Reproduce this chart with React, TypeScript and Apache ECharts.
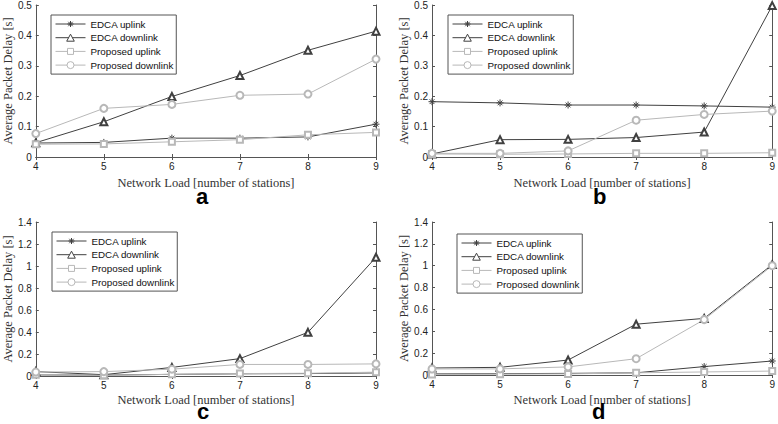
import React, { useEffect, useRef } from "react";
import * as echarts from "echarts";

const stations = [4, 5, 6, 7, 8, 9];
const seriesNames = ["EDCA uplink", "EDCA downlink", "Proposed uplink", "Proposed downlink"];
const panelLabels = ["a", "b", "c", "d"];

const aEdcaUp = [0.046, 0.048, 0.062, 0.062, 0.066, 0.108];
const aEdcaDown = [0.047, 0.116, 0.199, 0.268, 0.351, 0.414];
const aPropUp = [0.042, 0.043, 0.05, 0.057, 0.073, 0.081];
const aPropDown = [0.077, 0.16, 0.173, 0.203, 0.207, 0.322];

const bEdcaUp = [0.182, 0.178, 0.171, 0.171, 0.168, 0.164];
const bEdcaDown = [0.01, 0.057, 0.058, 0.064, 0.082, 0.498];
const bPropUp = [0.01, 0.009, 0.01, 0.012, 0.012, 0.014];
const bPropDown = [0.012, 0.012, 0.02, 0.121, 0.14, 0.151];

const cEdcaUp = [0.01, 0.008, 0.015, 0.02, 0.022, 0.028];
const cEdcaDown = [0.04, 0.012, 0.078, 0.158, 0.397, 1.08];
const cPropUp = [0.012, 0.006, 0.015, 0.022, 0.025, 0.035];
const cPropDown = [0.036, 0.04, 0.062, 0.105, 0.105, 0.11];

const dEdcaUp = [0.01, 0.012, 0.015, 0.02, 0.077, 0.128];
const dEdcaDown = [0.064, 0.07, 0.137, 0.465, 0.518, 1.01];
const dPropUp = [0.005, 0.008, 0.01, 0.02, 0.028, 0.036];
const dPropDown = [0.055, 0.056, 0.074, 0.149, 0.507, 1.0];

const panelData = [
  [aEdcaUp, aEdcaDown, aPropUp, aPropDown],
  [bEdcaUp, bEdcaDown, bPropUp, bPropDown],
  [cEdcaUp, cEdcaDown, cPropUp, cPropDown],
  [dEdcaUp, dEdcaDown, dPropUp, dPropDown],
];
const yMaxes = [0.5, 0.5, 1.4, 1.4];
const yIntervals = [0.1, 0.1, 0.2, 0.2];

const DARK = "#404040";
const LIGHT = "#b8b8b8";
const ASTERISK = "path://M5,0L5,10M0,5L10,5M1.6,1.6L8.4,8.4M8.4,1.6L1.6,8.4";

const legendIcons = [
  "path://M0,3.5L30,3.5M15,0.5L15,6.5M12,3.5L18,3.5M12.8,1.3L17.2,5.7M17.2,1.3L12.8,5.7M15,0L15,0M15,7L15,7",
  "path://M0,3.5L13.2,3.5M16.8,3.5L30,3.5M15,0L18.8,7L11.2,7Z",
  "path://M0,3.5L12,3.5M18,3.5L30,3.5M12,0.5L18,0.5L18,6.5L12,6.5ZM15,0L15,0M15,7L15,7",
  "path://M0,3.5L11.5,3.5M18.5,3.5L30,3.5M11.5,3.5A3.5,3.5,0,1,0,18.5,3.5A3.5,3.5,0,1,0,11.5,3.5Z",
];
const legendColors = [DARK, DARK, LIGHT, LIGHT];

const grids = [
  { left: 33, top: 4, width: 343, height: 153 },
  { left: 432, top: 4, width: 343, height: 153 },
  { left: 33, top: 222, width: 343, height: 154 },
  { left: 432, top: 222, width: 343, height: 153 },
];
const xNameGaps = [19, 19, 17.5, 18];
const legendPos = [
  { left: 51, top: 15 },
  { left: 448, top: 15 },
  { left: 52, top: 232 },
  { left: 457, top: 234 },
];
const labelPos = [
  { left: 196, top: 189.5 },
  { left: 593, top: 189.5 },
  { left: 197, top: 404 },
  { left: 592, top: 404 },
];

export default function App() {
  const ref = useRef<HTMLDivElement>(null);
  useEffect(() => {
    if (!ref.current) return;
    const chart = echarts.init(ref.current, undefined, { renderer: "svg" });
    const styles = [
      { color: DARK, symbol: ASTERISK, size: 7 },
      { color: DARK, symbol: "emptyTriangle", size: 7 },
      { color: LIGHT, symbol: "emptyRect", size: 6 },
      { color: LIGHT, symbol: "emptyCircle", size: 7 },
    ];
    const series: any[] = [];
    panelData.forEach((pd, p) => {
      pd.forEach((vals, s) => {
        const st = styles[s];
        series.push({
          type: "line",
          name: seriesNames[s],
          xAxisIndex: p,
          yAxisIndex: p,
          data: stations.map((x, i) => [x, vals[i]]),
          symbol: st.symbol,
          symbolSize: st.size,
          showSymbol: true,
          showAllSymbol: true,
          lineStyle: { color: st.color, width: 1 },
          itemStyle: {
            color: st.color,
            borderColor: st.color,
            borderWidth: 1,
          },
          emphasis: { disabled: true },
        });
      });
    });
    const axisLabelStyle = { fontFamily: "Liberation Sans", fontSize: 10, color: "#222" };
    const nameStyle = { fontFamily: "Liberation Serif", fontSize: 12.5, color: "#333" };
    const tick = { show: true, inside: true, length: 3, lineStyle: { color: "#555" } };
    const line = { show: true, lineStyle: { color: "#555", width: 1 } };
    const xAxes: any[] = [];
    const yAxes: any[] = [];
    grids.forEach((_, p) => {
      xAxes.push({
        type: "value",
        gridIndex: p,
        min: 4,
        max: 9,
        interval: 1,
        name: "Network Load [number of stations]",
        nameLocation: "middle",
        nameGap: xNameGaps[p],
        nameTextStyle: nameStyle,
        axisLine: line,
        axisTick: tick,
        axisLabel: { ...axisLabelStyle, margin: 4, showMaxLabel: true, showMinLabel: true },
        splitLine: { show: false },
      });
      yAxes.push({
        type: "value",
        gridIndex: p,
        min: 0,
        max: yMaxes[p],
        interval: yIntervals[p],
        name: "Average Packet Delay [s]",
        nameLocation: "middle",
        nameGap: 20,
        nameTextStyle: nameStyle,
        axisLine: line,
        axisTick: tick,
        axisLabel: { ...axisLabelStyle, margin: 4, showMaxLabel: true, showMinLabel: true },
        splitLine: { show: false },
      });
    });
    grids.forEach((_, p) => {
      xAxes.push({
        type: "value",
        gridIndex: p,
        position: "top",
        min: 4,
        max: 9,
        interval: 1,
        axisLine: line,
        axisTick: tick,
        axisLabel: { show: false },
        splitLine: { show: false },
      });
      yAxes.push({
        type: "value",
        gridIndex: p,
        position: "right",
        min: 0,
        max: yMaxes[p],
        interval: yIntervals[p],
        axisLine: line,
        axisTick: tick,
        axisLabel: { show: false },
        splitLine: { show: false },
      });
    });
    const option: any = {
      animation: false,
      backgroundColor: "#fff",
      grid: grids.map((g) => ({ ...g, containLabel: false })),
      xAxis: xAxes,
      yAxis: yAxes,
      legend: legendPos.map((lp) => ({
        ...lp,
        orient: "vertical",
        data: seriesNames.map((n, i) => ({
          name: n,
          icon: legendIcons[i],
          itemStyle: { color: "#fff", borderColor: legendColors[i], borderWidth: 1 },
        })),
        selectedMode: false,
        itemWidth: 30,
        itemHeight: 7,
        itemGap: 3.7,
        padding: [4, 3, 4, 4],
        borderColor: "#555",
        borderWidth: 1,
        backgroundColor: "#fff",
        textStyle: { fontFamily: "Liberation Sans", fontSize: 9.8, color: "#111", lineHeight: 10 },
      })),
      title: labelPos.map((lp, p) => ({
        ...lp,
        text: panelLabels[p],
        textStyle: {
          fontFamily: "Liberation Sans",
          fontSize: 22,
          fontWeight: "bold",
          color: "#000",
          lineHeight: 14,
        },
        padding: 0,
      })),
      series,
    };
    chart.setOption(option);
    return () => chart.dispose();
  }, []);
  return (
    <div
      ref={ref}
      style={{ position: "fixed", left: 0, top: 0, width: 778, height: 424 }}
    />
  );
}
